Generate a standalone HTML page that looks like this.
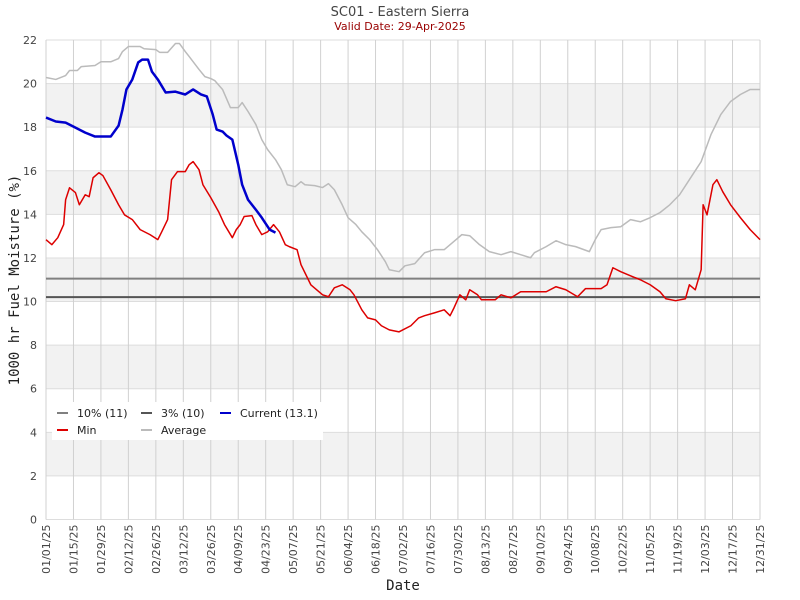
<!DOCTYPE html>
<html><head><meta charset="utf-8"><style>
body{margin:0;background:#fff}
svg{display:block;font-family:"DejaVu Sans","Liberation Sans",sans-serif}
</style></head><body>
<svg id="chart" width="800" height="600" viewBox="0 0 800 600">
<text x="400" y="16" text-anchor="middle" font-size="13" fill="#444">SC01 - Eastern Sierra</text>
<text x="400" y="30" text-anchor="middle" font-size="11" fill="#990000">Valid Date: 29-Apr-2025</text>
<g id="bands"></g><g id="grid"></g><g id="series"></g>
<text transform="translate(19,280) rotate(-90)" text-anchor="middle" font-size="14" font-family="DejaVu Sans Mono, monospace" fill="#222">1000 hr Fuel Moisture (%)</text>
<text x="403" y="590" text-anchor="middle" font-size="14" font-family="DejaVu Sans Mono, monospace" fill="#222">Date</text>
<g>
<rect x="52" y="402" width="271" height="38" fill="#fff"/>
<line x1="57" y1="413" x2="68" y2="413" stroke="#808080" stroke-width="2"/><text x="77" y="417" font-size="11" fill="#222">10% (11)</text>
<line x1="141" y1="413" x2="152" y2="413" stroke="#555" stroke-width="2"/><text x="161" y="417" font-size="11" fill="#222">3% (10)</text>
<line x1="220" y1="413" x2="231" y2="413" stroke="#0000cc" stroke-width="2"/><text x="240" y="417" font-size="11" fill="#222">Current (13.1)</text>
<line x1="57" y1="430" x2="68" y2="430" stroke="#dd0000" stroke-width="2"/><text x="77" y="434" font-size="11" fill="#222">Min</text>
<line x1="141" y1="430" x2="152" y2="430" stroke="#bbb" stroke-width="2"/><text x="161" y="434" font-size="11" fill="#222">Average</text>
</g>
</svg>
<script>
const avgDays=[0,5,10,12,16,18,25,28,33,37,39,42,48,50,56,58,62,66,68,71,73,78,81,84,86,90,94,98,100,103,107,110,113,117,120,123,127,130,132,137,141,144,147,151,154,158,161,165,169,173,175,180,183,188,193,198,203,209,212,216,221,226,232,237,242,247,249,255,260,265,270,277,280,283,288,293,298,303,308,313,318,323,328,334,339,344,349,354,359,364];
const avgVals=[20.28,20.19,20.37,20.6,20.6,20.78,20.83,21.0,21.0,21.15,21.47,21.7,21.7,21.6,21.56,21.43,21.43,21.84,21.84,21.47,21.24,20.65,20.32,20.23,20.14,19.73,18.9,18.9,19.13,18.72,18.12,17.43,16.97,16.51,16.05,15.36,15.27,15.5,15.36,15.32,15.23,15.41,15.13,14.44,13.85,13.53,13.2,12.84,12.38,11.83,11.46,11.37,11.64,11.74,12.24,12.38,12.38,12.84,13.07,13.02,12.61,12.29,12.15,12.29,12.15,12.01,12.24,12.52,12.79,12.61,12.52,12.29,12.84,13.3,13.39,13.43,13.76,13.66,13.85,14.08,14.44,14.9,15.59,16.42,17.66,18.58,19.18,19.5,19.73,19.73];
const minDays=[0,3,6,9,10,12,15,17,20,22,24,27,29,33,37,40,44,48,53,57,59,62,64,67,71,73,75,78,80,84,88,91,95,97,99,101,105,107,110,113,116,119,122,124,128,130,135,138,141,144,147,151,155,157,161,164,168,171,175,180,186,190,193,198,203,206,208,211,214,216,220,222,229,232,237,242,247,255,260,265,271,275,283,286,289,293,298,303,308,313,316,321,326,328,331,334,335,337,340,342,345,349,354,359,364];
const minVals=[12.84,12.61,12.93,13.53,14.67,15.22,15.0,14.44,14.9,14.81,15.68,15.91,15.78,15.13,14.44,13.98,13.76,13.3,13.07,12.84,13.2,13.76,15.59,15.96,15.96,16.28,16.42,16.05,15.36,14.77,14.12,13.53,12.93,13.3,13.53,13.9,13.94,13.53,13.07,13.2,13.53,13.2,12.61,12.52,12.38,11.69,10.77,10.54,10.31,10.22,10.63,10.77,10.54,10.31,9.62,9.25,9.16,8.89,8.7,8.61,8.89,9.25,9.35,9.48,9.62,9.35,9.71,10.31,10.08,10.54,10.31,10.08,10.08,10.31,10.17,10.45,10.45,10.45,10.68,10.54,10.22,10.59,10.59,10.77,11.55,11.37,11.18,11.0,10.77,10.45,10.13,10.04,10.13,10.77,10.54,11.46,14.44,13.98,15.36,15.59,15.04,14.44,13.85,13.3,12.84];
const curDays=[0,5,10,15,20,25,33,37,39,41,44,47,49,52,54,57,61,66,71,75,79,82,85,87,90,92,95,98,100,103,107,110,114,117];
const curVals=[18.44,18.26,18.21,17.98,17.75,17.57,17.57,18.07,18.81,19.73,20.19,20.97,21.1,21.1,20.55,20.19,19.59,19.63,19.5,19.73,19.5,19.41,18.58,17.89,17.8,17.62,17.43,16.28,15.36,14.67,14.21,13.85,13.3,13.16];
const pct10=11.05, pct3=10.2;
const yTicks=[0,2,4,6,8,10,12,14,16,18,20,22];
const NS="http://www.w3.org/2000/svg";
const X0=46,X1=760,Y0=519.5,Y1=40,DAYS=364,YMAX=22;
const xs=d=>X0+d*(X1-X0)/DAYS, ys=v=>Y0-v*(Y0-Y1)/YMAX;
function mk(t,a,p){const e=document.createElementNS(NS,t);for(const k in a)e.setAttribute(k,a[k]);p.appendChild(e);return e;}
const bands=document.getElementById('bands'),grid=document.getElementById('grid'),ser=document.getElementById('series');
for(let v=2;v<22;v+=4){const r=mk('rect',{x:X0,y:ys(v+2),width:X1-X0,height:ys(v)-ys(v+2),fill:'#f2f2f2'},bands);

}
yTicks.forEach(v=>{const l=mk('line',{x1:X0,x2:X1,y1:ys(v),y2:ys(v),stroke:'#ddd','stroke-width':1},grid);


const t=mk('text',{x:X0-9,y:ys(v)+4,'text-anchor':'end','font-size':11,fill:'#444'},grid);t.textContent=v;

});
for(let d=0;d<=DAYS;d+=14){const x=xs(d);const l=mk('line',{x1:x,x2:x,y1:Y1,y2:Y0,stroke:'#d0d0d0','stroke-width':1},grid);


const dt=new Date(Date.UTC(2025,0,1+d));const s=String(dt.getUTCMonth()+1).padStart(2,'0')+'/'+String(dt.getUTCDate()).padStart(2,'0')+'/25';
const t=mk('text',{transform:`translate(${x+4},${Y0+5}) rotate(-90)`,'text-anchor':'end','font-size':11,fill:'#444'},grid);t.textContent=s;

}
const h1=mk('line',{x1:X0,x2:X1,y1:ys(pct10),y2:ys(pct10),stroke:'#808080','stroke-width':2},ser);


const h2=mk('line',{x1:X0,x2:X1,y1:ys(pct3),y2:ys(pct3),stroke:'#555','stroke-width':2},ser);


function line(ds,vs,c,w,name){const p=mk('polyline',{points:ds.map((d,i)=>xs(d)+','+ys(vs[i])).join(' '),fill:'none',stroke:c,'stroke-width':w,'stroke-linejoin':'round'},ser);

}
line(avgDays,avgVals,'#bbb',1.5,'average-line');
line(minDays,minVals,'#dd0000',1.5,'min-line');
line(curDays,curVals,'#0000cc',2.5,'current-line');
</script>
</body></html>
